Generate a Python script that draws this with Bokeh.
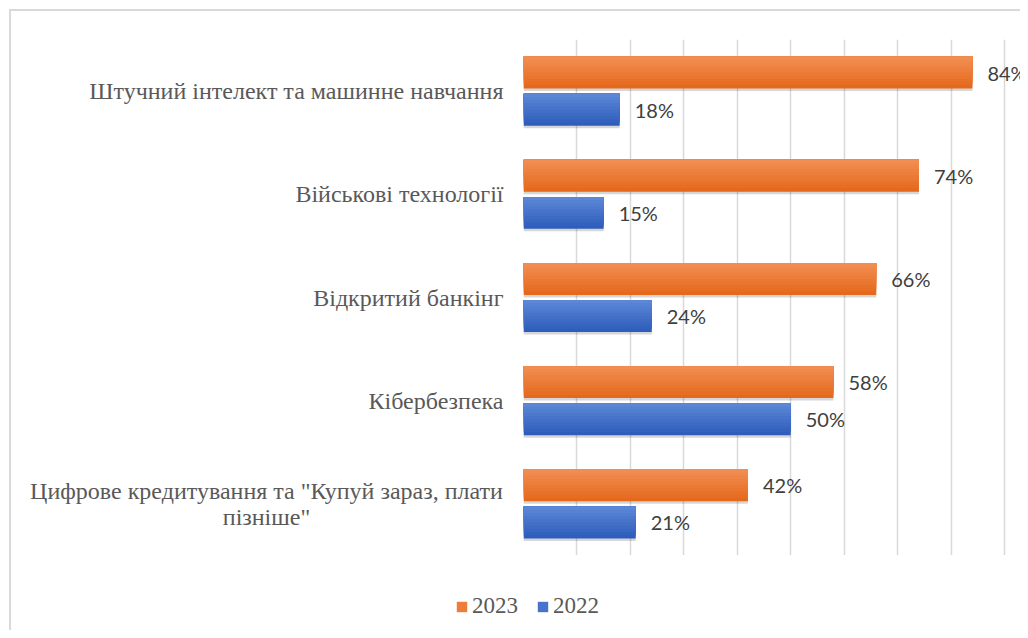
from bokeh.plotting import figure
from bokeh.layouts import column, row
from bokeh.models import FactorRange, FixedTicker, Legend, LegendItem, ColumnDataSource
from bokeh.transform import dodge
from bokeh.core.properties import value
from bokeh.embed import file_html
from bokeh.resources import INLINE

categories = [
    "Штучний інтелект та машинне навчання",
    "Військові технології",
    "Відкритий банкінг",
    "Кібербезпека",
    "Цифрове кредитування та \"Купуй зараз, плати\nпізніше\"",
]
values_2023 = [84, 74, 66, 58, 42]
values_2022 = [18, 15, 24, 50, 21]
series_names = ["2023", "2022"]
grid_ticks = [0, 10, 20, 30, 40, 50, 60, 70, 80, 90]

ORANGE = ("#F28D52", "#E4691C")   # top, bottom of gradient
BLUE = ("#5B87D6", "#2E5DBB")
SERIF = "Liberation Serif"
FRAME_LEFT = 523
LABEL_RIGHT = 503
BAR_H = 0.31
OFF = 0.18


def mix(c1, c2, t):
    a = [int(c1[i:i + 2], 16) for i in (1, 3, 5)]
    b = [int(c2[i:i + 2], 16) for i in (1, 3, 5)]
    return "#%02x%02x%02x" % tuple(round(a[k] + (b[k] - a[k]) * t) for k in range(3))


yr = FactorRange(*categories[::-1])

src = ColumnDataSource(dict(
    cat=categories,
    v23=values_2023,
    v22=values_2022,
    l23=[f"{v}%" for v in values_2023],
    l22=[f"{v}%" for v in values_2022],
))

# ---------------- main chart ----------------
p = figure(
    width=1020 - FRAME_LEFT, height=555,
    y_range=yr, x_range=(0, 93.0),
    output_backend="svg", toolbar_location=None,
    min_border_left=0, min_border_right=0, min_border_top=39, min_border_bottom=0,
)
p.frame_align = False
p.outline_line_color = None
p.background_fill_alpha = 0
p.border_fill_alpha = 0
p.xaxis.visible = False
p.yaxis.visible = False
p.xgrid.ticker = FixedTicker(ticks=grid_ticks)
p.xgrid.grid_line_color = "#d9d9d9"
p.xgrid.grid_line_width = 1.5
p.ygrid.grid_line_color = None

NSTRIP = 10
for col, off, colors in [("v23", OFF, ORANGE), ("v22", -OFF, BLUE)]:
    # soft shadow
    p.hbar(y=dodge("cat", off - 0.024, range=yr), right=col, left=0, height=BAR_H,
           source=src, fill_color="#000000", fill_alpha=0.16, line_color=None)
    # vertical gradient: nested bars anchored at the bar top, largest first
    top = off + BAR_H / 2
    for k in range(NSTRIP - 1, -1, -1):
        h = BAR_H * (k + 1) / NSTRIP
        p.hbar(y=dodge("cat", top - h / 2, range=yr), right=col, left=0, height=h,
               source=src, fill_color=mix(colors[0], colors[1], k / (NSTRIP - 1)),
               line_color=None)

for off, xcol, lcol in [(OFF, "v23", "l23"), (-OFF, "v22", "l22")]:
    p.text(x=xcol, y=dodge("cat", off, range=yr), text=lcol, source=src,
           x_offset=15, text_baseline="middle", text_align="left",
           text_font=value("Lato"), text_font_size="20px", text_color="#404040")

# ---------------- category labels (left strip) ----------------
rows_txt, rows_cat, rows_x, rows_yoff, rows_align = [], [], [], [], []
for c in categories:
    lines = c.split("\n")
    if len(lines) == 1:
        rows_txt.append(c); rows_cat.append(c); rows_x.append(LABEL_RIGHT)
        rows_yoff.append(0); rows_align.append("right")
    else:
        for j, ln in enumerate(lines):
            rows_txt.append(ln); rows_cat.append(c); rows_x.append(266)
            rows_yoff.append((j - (len(lines) - 1) / 2) * 26); rows_align.append("center")
lab_src = ColumnDataSource(dict(txt=rows_txt, cat=rows_cat, x=rows_x,
                                yoff=rows_yoff, align=rows_align))

pleft = figure(width=FRAME_LEFT, height=555, y_range=yr, x_range=(0, FRAME_LEFT),
               output_backend="svg", toolbar_location=None,
               min_border_left=0, min_border_right=0, min_border_top=39, min_border_bottom=0)
pleft.frame_align = False
pleft.axis.visible = False
pleft.grid.visible = False
pleft.outline_line_color = None
pleft.background_fill_alpha = 0
pleft.border_fill_alpha = 0
pleft.text(x="x", y="cat", text="txt", y_offset="yoff", text_align="align",
           source=lab_src, text_baseline="middle",
           text_font=value(SERIF), text_font_size="24px", text_color="#595959")

# ---------------- legend strip ----------------
pl = figure(width=1020, height=75, x_range=(0, 1), y_range=(0, 1),
            output_backend="svg", toolbar_location=None,
            min_border_left=0, min_border_right=0, min_border_top=0, min_border_bottom=0)
pl.frame_align = False
pl.axis.visible = False
pl.grid.visible = False
pl.outline_line_color = None
pl.background_fill_alpha = 0
pl.border_fill_alpha = 0
offscreen = ColumnDataSource(dict(y=[-10], right=[-5]))
lr23 = pl.hbar(y="y", left=-6, right="right", height=0.5, source=offscreen,
               fill_color=mix(*ORANGE, 0.45), line_color=None)
lr22 = pl.hbar(y="y", left=-6, right="right", height=0.5, source=offscreen,
               fill_color=mix(*BLUE, 0.45), line_color=None)
legend = Legend(items=[LegendItem(label=series_names[0], renderers=[lr23], index=0),
                       LegendItem(label=series_names[1], renderers=[lr22], index=0)],
                orientation="horizontal", location=(455, 11),
                label_text_font=SERIF, label_text_font_size="23px",
                label_text_color="#595959", glyph_width=13, glyph_height=13,
                label_standoff=4, spacing=18, padding=0, margin=0,
                border_line_color=None, background_fill_alpha=0)
pl.add_layout(legend, "center")

layout = column(row(pleft, p, spacing=0), pl, spacing=0)
layout.styles = {
    "background": "linear-gradient(#d9d9d9,#d9d9d9) 9px 9px / 2px 100% no-repeat, "
                  "linear-gradient(#d9d9d9,#d9d9d9) 9px 9px / 100% 2px no-repeat, white"
}

open("out.html", "w").write(file_html(layout, INLINE))
